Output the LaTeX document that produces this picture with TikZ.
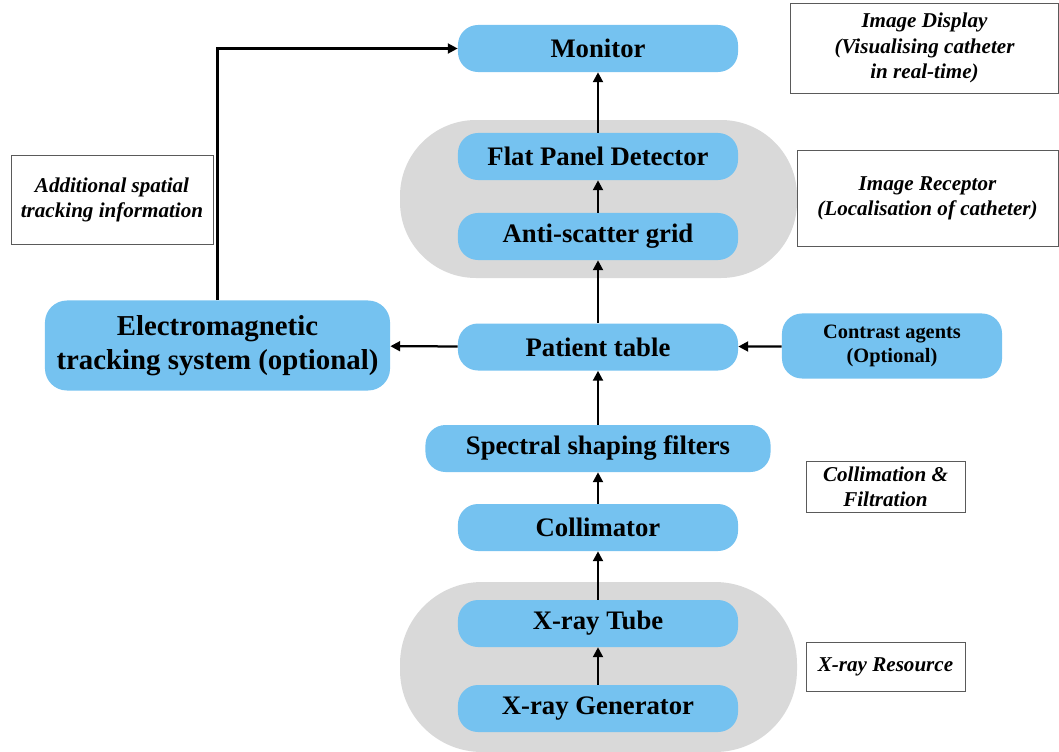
\documentclass[tikz,border=0pt]{standalone}
\usepackage{fontspec}
\setmainfont{Liberation Serif}
\usetikzlibrary{positioning,arrows.meta}
\definecolor{boxblue}{RGB}{117,194,240}
\definecolor{groupgray}{RGB}{217,217,217}
\definecolor{framegray}{RGB}{90,90,90}

\begin{document}
\begin{tikzpicture}[x=0.025cm,y=-0.025cm,
    unit/.style={fill=boxblue,rounded corners=0.5cm,minimum width=7cm,minimum height=1.175cm,
      font=\bfseries\fontsize{19}{22}\selectfont,inner sep=2pt},
    sidenote/.style={draw=framegray,line width=0.6pt,fill=white,align=center,
      font=\bfseries\itshape\fontsize{15}{18}\selectfont,inner sep=2pt},
    flow/.style={line width=1.6pt,-{Triangle[length=7pt,width=7pt]}}]
    \useasboundingbox (0,0) rectangle (1059,751);
    % grey groups
    \fill[groupgray,rounded corners=1.9cm] (400,120) rectangle (797,278);
    \fill[groupgray,rounded corners=2.05cm] (400,582) rectangle (797,752);
    % main chain
    \node[unit] (monitor) at (598,48.5) {Monitor};
    \node[unit] (detector) at (598,156.5) {Flat Panel Detector};
    \node[unit] (grid) at (598,236.5) {Anti-scatter grid};
    \node[unit] (table) at (598,347) {Patient table};
    \node[unit,minimum width=8.625cm] (filters) at (598,448.5) {Spectral shaping filters};
    \node[unit] (collimator) at (598,527.5) {Collimator};
    \node[unit] (tube) at (598,623.5) {X-ray Tube};
    \node[unit] (generator) at (598,708.5) {X-ray Generator};
    % side units
    \node[unit,minimum width=8.625cm,minimum height=2.25cm,align=center,rounded corners=0.55cm,
      font=\bfseries\fontsize{20.5}{24}\selectfont] (tracking) at (217.5,345.5)
      {Electromagnetic\\tracking system (optional)};
    \node[unit,minimum width=5.5cm,minimum height=1.625cm,align=center,
      font=\bfseries\fontsize{14.5}{16.5}\selectfont] (contrast) at (892,346)
      {Contrast agents\\(Optional)};
    % notes
    \node[sidenote,minimum width=6.7cm,minimum height=2.25cm] (display) at (924.5,48)
      {Image Display\\(Visualising catheter\\in real-time)};
    \node[sidenote,minimum width=6.525cm,minimum height=2.4cm] (receptor) at (927.5,198)
      {Image Receptor\\(Localisation of catheter)};
    \node[sidenote,minimum width=5.05cm,minimum height=2.225cm] (extra) at (112,200)
      {Additional spatial\\tracking information};
    \node[sidenote,minimum width=3.975cm,minimum height=1.275cm] (collnote) at (885.5,487)
      {Collimation \&\\Filtration};
    \node[sidenote,minimum width=3.975cm,minimum height=1.225cm] (source) at (885.5,667)
      {X-ray Resource};
    % arrows
    \draw[flow] (generator) -- (tube);
    \draw[flow] (tube) -- (collimator);
    \draw[flow] (collimator) -- (filters);
    \draw[flow] (filters) -- (table);
    \draw[flow] (table) -- (grid);
    \draw[flow] (grid) -- (detector);
    \draw[flow] (detector) -- (monitor);
    \draw[flow] (table) -- (tracking);
    \draw[flow] (contrast) -- (table);
    \draw[flow] (tracking.north) |- (monitor.west);
\end{tikzpicture}
\end{document}
